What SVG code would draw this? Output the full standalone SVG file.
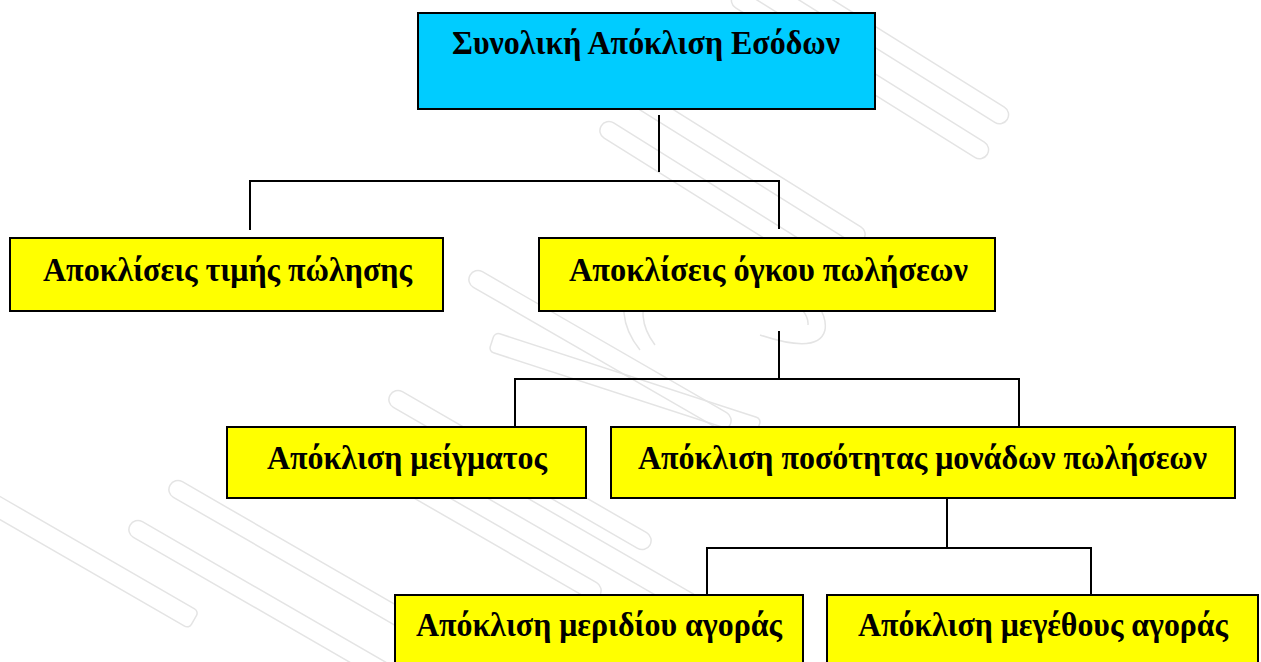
<svg xmlns="http://www.w3.org/2000/svg" width="1261" height="662" viewBox="0 0 1261 662">
  <defs>
    <style>
      .box { stroke: #000; stroke-width: 2; }
      .blue { fill: #00CCFF; }
      .yellow { fill: #FFFF00; }
      .label { font-family: "Liberation Serif", "Times New Roman", serif; font-weight: bold; font-size: 33px; fill: #000; text-anchor: middle; }
      .wire { stroke: #000; stroke-width: 2; fill: none; }
      .mark { fill: none; stroke: #e4e4e4; stroke-width: 1.5; }
    </style>
  </defs>

  <rect width="1261" height="662" fill="#ffffff"/>

  <!-- faint background emblem -->
  <g id="emblem" class="mark">
    <rect x="-150" y="-9" width="300" height="18" rx="9" transform="translate(880 40) rotate(32)"/>
    <rect x="-150" y="-9" width="300" height="18" rx="9" transform="translate(860 75) rotate(32)"/>
    <rect x="-140" y="-9" width="280" height="18" rx="9" transform="translate(745 165) rotate(32)"/>
    <rect x="-140" y="-9" width="280" height="18" rx="9" transform="translate(720 200) rotate(32)"/>
    <path d="M 640 350 C 600 300 640 250 700 255 C 780 262 830 300 825 330 C 820 350 790 345 760 335"/>
    <path d="M 655 345 C 625 305 655 268 705 272 C 770 280 810 305 808 325"/>
    <rect x="-140" y="-10" width="280" height="20" rx="5" transform="translate(625 385) rotate(18)"/>
    <rect x="-150" y="-9" width="300" height="18" rx="9" transform="translate(600 350) rotate(30)"/>
    <rect x="-150" y="-9" width="300" height="18" rx="9" transform="translate(520 470) rotate(30)"/>
    <rect x="-150" y="-9" width="300" height="18" rx="9" transform="translate(470 520) rotate(30)"/>
    <rect x="-130" y="-10" width="260" height="20" rx="5" transform="translate(580 540) rotate(30)"/>
    <rect x="-150" y="-9" width="300" height="18" rx="9" transform="translate(300 560) rotate(30)"/>
    <rect x="-150" y="-9" width="300" height="18" rx="9" transform="translate(260 600) rotate(30)"/>
    <rect x="-120" y="-10" width="240" height="20" rx="5" transform="translate(90 560) rotate(30)"/>
  </g>

  <!-- connectors -->
  <g id="connectors" class="wire">
    <path d="M 659 115 V 172"/>
    <path d="M 250 230 V 181 H 779 V 229"/>
    <path d="M 779 331 V 379"/>
    <path d="M 515 427 V 379 H 1019 V 427"/>
    <path d="M 947 498 V 548"/>
    <path d="M 707 595 V 548 H 1091 V 595"/>
  </g>

  <g id="total-revenue-variance">
    <rect class="box blue" x="418" y="13" width="457" height="96"/>
    <text class="label" x="646" y="54" textLength="388" lengthAdjust="spacingAndGlyphs">Συνολική Απόκλιση Εσόδων</text>
  </g>

  <g id="price-variance">
    <rect class="box yellow" x="10" y="238" width="433" height="73"/>
    <text class="label" x="227.5" y="281" textLength="369" lengthAdjust="spacingAndGlyphs">Αποκλίσεις τιμής πώλησης</text>
  </g>

  <g id="volume-variance">
    <rect class="box yellow" x="539" y="238" width="456" height="73"/>
    <text class="label" x="768.5" y="281" textLength="399" lengthAdjust="spacingAndGlyphs">Αποκλίσεις όγκου πωλήσεων</text>
  </g>

  <g id="mix-variance">
    <rect class="box yellow" x="227" y="427" width="359" height="71"/>
    <text class="label" x="407" y="469" textLength="280" lengthAdjust="spacingAndGlyphs">Απόκλιση μείγματος</text>
  </g>

  <g id="quantity-variance">
    <rect class="box yellow" x="611" y="427" width="624" height="71"/>
    <text class="label" x="922.5" y="469" textLength="569" lengthAdjust="spacingAndGlyphs">Απόκλιση ποσότητας μονάδων πωλήσεων</text>
  </g>

  <g id="market-share-variance">
    <rect class="box yellow" x="395" y="595" width="408" height="80"/>
    <text class="label" x="599" y="636" textLength="366" lengthAdjust="spacingAndGlyphs">Απόκλιση μεριδίου αγοράς</text>
  </g>

  <g id="market-size-variance">
    <rect class="box yellow" x="827" y="595" width="431" height="80"/>
    <text class="label" x="1043" y="636" textLength="370" lengthAdjust="spacingAndGlyphs">Απόκλιση μεγέθους αγοράς</text>
  </g>
</svg>
